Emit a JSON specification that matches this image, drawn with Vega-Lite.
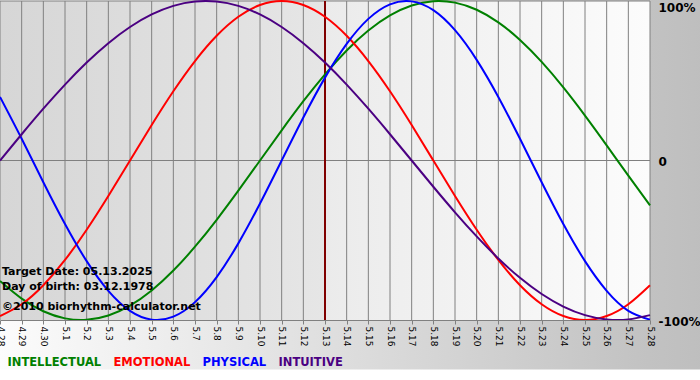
{
  "$schema": "https://vega.github.io/schema/vega-lite/v6.json",
  "width": 650,
  "height": 319,
  "autosize": {"type": "none"},
  "padding": {"left": 0, "top": 1, "right": 50, "bottom": 60},
  "background": "white",
  "config": {"view": {"stroke": null}},
  "datasets": {
    "bio": [
      {"date": "2025-04-28", "INTELLECTUAL": -0.7557, "EMOTIONAL": -0.9749, "PHYSICAL": 0.3984, "INTUITIVE": 0},
      {"date": "2025-04-29", "INTELLECTUAL": -0.8660, "EMOTIONAL": -0.9010, "PHYSICAL": 0.1362, "INTUITIVE": 0.1646},
      {"date": "2025-04-30", "INTELLECTUAL": -0.9450, "EMOTIONAL": -0.7818, "PHYSICAL": -0.1362, "INTUITIVE": 0.3247},
      {"date": "2025-05-01", "INTELLECTUAL": -0.9898, "EMOTIONAL": -0.6235, "PHYSICAL": -0.3984, "INTUITIVE": 0.4759},
      {"date": "2025-05-02", "INTELLECTUAL": -0.9989, "EMOTIONAL": -0.4339, "PHYSICAL": -0.6311, "INTUITIVE": 0.6142},
      {"date": "2025-05-03", "INTELLECTUAL": -0.9718, "EMOTIONAL": -0.2225, "PHYSICAL": -0.8170, "INTUITIVE": 0.7357},
      {"date": "2025-05-04", "INTELLECTUAL": -0.9096, "EMOTIONAL": 0, "PHYSICAL": -0.9423, "INTUITIVE": 0.8372},
      {"date": "2025-05-05", "INTELLECTUAL": -0.8146, "EMOTIONAL": 0.2225, "PHYSICAL": -0.9977, "INTUITIVE": 0.9158},
      {"date": "2025-05-06", "INTELLECTUAL": -0.6901, "EMOTIONAL": 0.4339, "PHYSICAL": -0.9791, "INTUITIVE": 0.9694},
      {"date": "2025-05-07", "INTELLECTUAL": -0.5406, "EMOTIONAL": 0.6235, "PHYSICAL": -0.8879, "INTUITIVE": 0.9966},
      {"date": "2025-05-08", "INTELLECTUAL": -0.3717, "EMOTIONAL": 0.7818, "PHYSICAL": -0.7308, "INTUITIVE": 0.9966},
      {"date": "2025-05-09", "INTELLECTUAL": -0.1893, "EMOTIONAL": 0.9010, "PHYSICAL": -0.5196, "INTUITIVE": 0.9694},
      {"date": "2025-05-10", "INTELLECTUAL": 0, "EMOTIONAL": 0.9749, "PHYSICAL": -0.2698, "INTUITIVE": 0.9158},
      {"date": "2025-05-11", "INTELLECTUAL": 0.1893, "EMOTIONAL": 1, "PHYSICAL": 0, "INTUITIVE": 0.8372},
      {"date": "2025-05-12", "INTELLECTUAL": 0.3717, "EMOTIONAL": 0.9749, "PHYSICAL": 0.2698, "INTUITIVE": 0.7357},
      {"date": "2025-05-13", "INTELLECTUAL": 0.5406, "EMOTIONAL": 0.9010, "PHYSICAL": 0.5196, "INTUITIVE": 0.6142},
      {"date": "2025-05-14", "INTELLECTUAL": 0.6901, "EMOTIONAL": 0.7818, "PHYSICAL": 0.7308, "INTUITIVE": 0.4759},
      {"date": "2025-05-15", "INTELLECTUAL": 0.8146, "EMOTIONAL": 0.6235, "PHYSICAL": 0.8879, "INTUITIVE": 0.3247},
      {"date": "2025-05-16", "INTELLECTUAL": 0.9096, "EMOTIONAL": 0.4339, "PHYSICAL": 0.9791, "INTUITIVE": 0.1646},
      {"date": "2025-05-17", "INTELLECTUAL": 0.9718, "EMOTIONAL": 0.2225, "PHYSICAL": 0.9977, "INTUITIVE": 0},
      {"date": "2025-05-18", "INTELLECTUAL": 0.9989, "EMOTIONAL": 0, "PHYSICAL": 0.9423, "INTUITIVE": -0.1646},
      {"date": "2025-05-19", "INTELLECTUAL": 0.9898, "EMOTIONAL": -0.2225, "PHYSICAL": 0.8170, "INTUITIVE": -0.3247},
      {"date": "2025-05-20", "INTELLECTUAL": 0.9450, "EMOTIONAL": -0.4339, "PHYSICAL": 0.6311, "INTUITIVE": -0.4759},
      {"date": "2025-05-21", "INTELLECTUAL": 0.8660, "EMOTIONAL": -0.6235, "PHYSICAL": 0.3984, "INTUITIVE": -0.6142},
      {"date": "2025-05-22", "INTELLECTUAL": 0.7557, "EMOTIONAL": -0.7818, "PHYSICAL": 0.1362, "INTUITIVE": -0.7357},
      {"date": "2025-05-23", "INTELLECTUAL": 0.6182, "EMOTIONAL": -0.9010, "PHYSICAL": -0.1362, "INTUITIVE": -0.8372},
      {"date": "2025-05-24", "INTELLECTUAL": 0.4582, "EMOTIONAL": -0.9749, "PHYSICAL": -0.3984, "INTUITIVE": -0.9158},
      {"date": "2025-05-25", "INTELLECTUAL": 0.2817, "EMOTIONAL": -1, "PHYSICAL": -0.6311, "INTUITIVE": -0.9694},
      {"date": "2025-05-26", "INTELLECTUAL": 0.0951, "EMOTIONAL": -0.9749, "PHYSICAL": -0.8170, "INTUITIVE": -0.9966},
      {"date": "2025-05-27", "INTELLECTUAL": -0.0951, "EMOTIONAL": -0.9010, "PHYSICAL": -0.9423, "INTUITIVE": -0.9966},
      {"date": "2025-05-28", "INTELLECTUAL": -0.2817, "EMOTIONAL": -0.7818, "PHYSICAL": -0.9977, "INTUITIVE": -0.9694}
    ]
  },
  "layer": [
    {
      "data": {"values": [{"date": "2025-04-28", "date2": "2025-06-01", "v": 1.05, "v2": -1.31}], "format": {"parse": {"date": "date", "date2": "date"}}},
      "mark": {"type": "rect", "clip": false, "fill": {"gradient": "linear", "x1": 0, "y1": 0, "x2": 1, "y2": 0, "stops": [{"offset": 0, "color": "#fcfcfc"}, {"offset": 0.88, "color": "#c2c2c2"}, {"offset": 1, "color": "#bcbcbc"}]}},
      "encoding": {
        "x": {
          "field": "date", "type": "temporal", "title": null,
          "scale": {"type": "utc", "domain": [{"year": 2025, "month": 4, "date": 28, "utc": true}, {"year": 2025, "month": 5, "date": 28, "utc": true}], "nice": false},
          "axis": {"orient": "bottom", "format": "%-m.%-d", "tickCount": {"interval": "day", "step": 1}, "labelAngle": 90, "labelFont": "DejaVu Sans", "labelFontSize": 9, "labelColor": "#000000", "tickColor": "#808080", "tickSize": 4, "domainColor": "#808080", "grid": false, "labelOverlap": false, "labelFlush": false, "labelBound": false, "labelPadding": 2, "zindex": 1}
        },
        "x2": {"field": "date2"},
        "y": {
          "field": "v", "type": "quantitative", "title": null,
          "scale": {"domain": [-1, 1], "nice": false, "zero": false},
          "axis": {"orient": "right", "values": [-1, 0, 1], "labelExpr": "datum.value == 1 ? '100%' : datum.value == 0 ? '0' : '-100%'", "labelFont": "DejaVu Sans", "labelFontSize": 12, "labelFontWeight": "bold", "labelColor": "#000000", "ticks": false, "domain": false, "grid": false, "labelPadding": 8, "labelBaseline": {"condition": {"test": "datum.value == 1", "value": "top"}, "value": "middle"}, "labelOffset": 1, "labelFlush": false, "labelBound": false, "labelOverlap": false, "zindex": 1}
        },
        "y2": {"field": "v2"}
      }
    },
    {
      "data": {"values": [{"date": "2025-04-28", "date2": "2025-05-13", "v": 1, "v2": -1}], "format": {"parse": {"date": "date", "date2": "date"}}},
      "mark": {"type": "rect", "fill": {"gradient": "linear", "x1": 0, "y1": 0, "x2": 1, "y2": 0, "stops": [{"offset": 0, "color": "#d6d6d6"}, {"offset": 1, "color": "#e6e6e6"}]}},
      "encoding": {"x": {"field": "date", "type": "temporal", "title": null}, "x2": {"field": "date2"}, "y": {"field": "v", "type": "quantitative", "title": null}, "y2": {"field": "v2"}}
    },
    {
      "data": {"values": [{"date": "2025-05-13", "date2": "2025-05-28", "v": 1, "v2": -1}], "format": {"parse": {"date": "date", "date2": "date"}}},
      "mark": {"type": "rect", "fill": {"gradient": "linear", "x1": 0, "y1": 0, "x2": 1, "y2": 0, "stops": [{"offset": 0, "color": "#ebebeb"}, {"offset": 1, "color": "#fcfcfc"}]}},
      "encoding": {"x": {"field": "date", "type": "temporal", "title": null}, "x2": {"field": "date2"}, "y": {"field": "v", "type": "quantitative", "title": null}, "y2": {"field": "v2"}}
    },
    {
      "data": {"name": "bio"},
      "mark": {"type": "rule", "color": "#808080", "strokeWidth": 1},
      "encoding": {"x": {"field": "date", "type": "temporal", "title": null}}
    },
    {
      "data": {"values": [{"v": 0}, {"v": 1}]},
      "mark": {"type": "rule", "color": "#808080", "strokeWidth": 1},
      "encoding": {"y": {"field": "v", "type": "quantitative", "title": null}}
    },
    {
      "data": {"values": [{"date": "2025-05-13"}]},
      "mark": {"type": "rule", "color": "#800000", "strokeWidth": 2},
      "encoding": {"x": {"field": "date", "type": "temporal", "title": null}}
    },
    {
      "data": {"name": "bio"},
      "transform": [{"fold": ["INTELLECTUAL", "EMOTIONAL", "PHYSICAL", "INTUITIVE"]}],
      "mark": {"type": "line", "interpolate": "natural", "strokeWidth": 2},
      "encoding": {
        "x": {"field": "date", "type": "temporal", "title": null},
        "y": {"field": "value", "type": "quantitative", "title": null},
        "color": {
          "field": "key", "type": "nominal",
          "scale": {"domain": ["INTELLECTUAL", "EMOTIONAL", "PHYSICAL", "INTUITIVE"], "range": ["#008000", "#ff0000", "#0000ff", "#4b0082"]},
          "legend": {"orient": "none", "legendX": -4, "legendY": 356, "direction": "horizontal", "title": null, "symbolSize": 0, "symbolStrokeWidth": 0, "symbolOpacity": 0, "labelOffset": 0, "columnPadding": -9, "labelFont": "DejaVu Sans", "labelFontSize": 11.5, "labelFontWeight": "bold", "padding": 0, "encode": {"labels": {"update": {"fill": {"scale": "color", "field": "value"}}}}}
        }
      }
    },
    {
      "data": {"values": [
        {"date": "2025-04-28", "v": -0.699, "note": "Target Date: 05.13.2025"},
        {"date": "2025-04-28", "v": -0.793, "note": "Day of birth: 03.12.1978"},
        {"date": "2025-04-28", "v": -0.918, "note": "©2010 biorhythm-calculator.net"}
      ]},
      "mark": {"type": "text", "align": "left", "baseline": "middle", "dx": 2, "font": "DejaVu Sans", "fontSize": 11, "fontWeight": "bold", "color": "#000000"},
      "encoding": {
        "x": {"field": "date", "type": "temporal", "title": null},
        "y": {"field": "v", "type": "quantitative", "title": null},
        "text": {"field": "note"}
      }
    }
  ]
}
